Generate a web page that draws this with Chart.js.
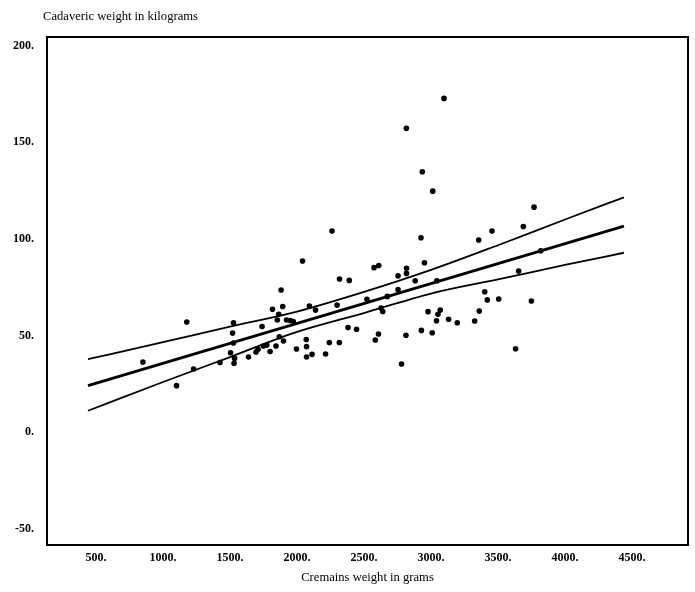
<!DOCTYPE html>
<html>
<head>
<meta charset="utf-8">
<script src="https://cdn.jsdelivr.net/npm/chart.js@4"></script>
<style>
  html, body { margin: 0; padding: 0; background: #ffffff; }
  canvas { display: block; }
</style>
</head>
<body>
<canvas id="c" width="695" height="592"></canvas>
<script>
// ---- Data ----
const cremainsGrams = [
  850, 1101, 1177, 1228, 1425, 1526, 1519, 1526, 1504, 1534,
  1530, 1638, 1694, 1709, 1739, 1749, 1774, 1799, 1817, 1843,
  1853, 1863, 1868, 1881, 1893, 1899, 1922, 1951, 1972, 1996,
  2041, 2069, 2071, 2071, 2092, 2138, 2112, 2213, 2241, 2261,
  2299, 2316, 2317, 2381, 2390, 2444, 2522, 2575, 2584, 2608,
  2610, 2627, 2640, 2674, 2754, 2754, 2780, 2813, 2817, 2817,
  2816, 2882, 2925, 2928, 2935, 2951, 2978, 3009, 3013, 3041,
  3043, 3052, 3069, 3097, 3131, 3196, 3326, 3356, 3360, 3401,
  3420, 3455, 3505, 3631, 3654, 3689, 3749, 3769, 3819
];
const cadavericKg = [
  36.2, 24.0, 56.9, 32.6, 36.0, 56.6, 51.2, 46.1, 41.0, 38.1,
  35.6, 38.8, 41.4, 42.8, 54.6, 44.5, 45.0, 41.7, 63.5, 44.5,
  58.0, 60.9, 49.3, 73.5, 65.0, 47.1, 58.0, 57.7, 57.2, 43.0,
  88.5, 47.9, 44.2, 38.8, 65.2, 63.1, 40.2, 40.4, 46.3, 104.0,
  65.7, 46.3, 79.2, 54.1, 78.5, 53.2, 68.7, 85.1, 47.6, 50.7,
  86.2, 64.2, 62.4, 70.2, 80.9, 73.8, 35.2, 50.1, 84.8, 82.1,
  157.2, 78.3, 100.6, 52.6, 134.7, 87.6, 62.3, 51.4, 124.7, 57.6,
  78.3, 60.9, 63.1, 172.7, 58.4, 56.6, 57.5, 99.4, 62.6, 72.6,
  68.4, 104.0, 68.8, 43.1, 83.3, 106.4, 67.8, 116.4, 93.8
];

const fitX = [440, 4440];
const fitY = [24.0, 106.6];

const bandX = [440, 1000, 1500, 2000, 2500, 3000, 3500, 4000, 4440];
const upperBand = [37.7, 46.5, 54.5, 62.3, 72.5, 83.9, 96.7, 110.0, 121.5];
const lowerBand = [11.0, 25.9, 38.8, 51.8, 61.6, 71.7, 79.0, 86.5, 92.8];

const xTickValues = [500, 1000, 1500, 2000, 2500, 3000, 3500, 4000, 4500];
const yTickValues = [-50, 0, 50, 100, 150, 200];

const yAxisTitle = 'Cadaveric weight in kilograms';
const xAxisTitle = 'Cremains weight in grams';

// ---- Build chart ----
const FONT = '"Liberation Serif", "DejaVu Serif", serif';
const pts = (xs, ys) => xs.map((x, i) => ({ x: x, y: ys[i] }));

const topTitle = {
  id: 'topTitle',
  afterDraw(chart) {
    const ctx = chart.ctx;
    ctx.save();
    ctx.fillStyle = '#000';
    ctx.font = '12.6px ' + FONT;
    ctx.textAlign = 'left';
    ctx.textBaseline = 'middle';
    ctx.fillText(yAxisTitle, 43, 17);
    ctx.restore();
  }
};

const X_MIN = 134, X_MAX = 4918, Y_MIN = -58.5, Y_MAX = 204.5;

new Chart(document.getElementById('c'), {
  data: {
    datasets: [
      {
        type: 'scatter',
        data: pts(cremainsGrams, cadavericKg),
        backgroundColor: '#000',
        borderColor: '#000',
        pointRadius: 2.8,
        pointBorderWidth: 0
      },
      {
        type: 'line',
        data: pts(fitX, fitY),
        borderColor: '#000',
        borderWidth: 3,
        pointRadius: 0,
        tension: 0,
        fill: false
      },
      {
        type: 'line',
        data: pts(bandX, upperBand),
        borderColor: '#000',
        borderWidth: 1.8,
        pointRadius: 0,
        cubicInterpolationMode: 'monotone',
        fill: false
      },
      {
        type: 'line',
        data: pts(bandX, lowerBand),
        borderColor: '#000',
        borderWidth: 1.8,
        pointRadius: 0,
        cubicInterpolationMode: 'monotone',
        fill: false
      }
    ]
  },
  options: {
    responsive: false,
    animation: false,
    devicePixelRatio: 1,
    layout: { padding: 0 },
    plugins: {
      legend: { display: false },
      tooltip: { enabled: false },
      title: { display: false }
    },
    scales: {
      x: {
        type: 'linear',
        position: 'bottom',
        min: X_MIN, max: X_MAX,
        afterBuildTicks: s => { s.ticks = xTickValues.map(v => ({ value: v })); },
        afterFit: s => { s.height = 47; },
        grid: { display: false, drawTicks: false },
        border: { display: true, color: '#000', width: 2 },
        ticks: {
          color: '#000',
          padding: 6,
          maxRotation: 0,
          autoSkip: false,
          font: { family: FONT, size: 12, weight: 'bold' },
          callback: v => v + '.'
        },
        title: {
          display: true,
          text: xAxisTitle,
          color: '#000',
          font: { family: FONT, size: 12.6 },
          padding: { top: 0, bottom: 7 }
        }
      },
      x2: {
        type: 'linear',
        position: 'top',
        min: X_MIN, max: X_MAX,
        afterFit: s => { s.height = 37; },
        grid: { display: false, drawTicks: false },
        border: { display: true, color: '#000', width: 2 },
        ticks: { display: false }
      },
      y: {
        type: 'linear',
        position: 'left',
        min: Y_MIN, max: Y_MAX,
        afterBuildTicks: s => { s.ticks = yTickValues.map(v => ({ value: v })); },
        afterFit: s => { s.width = 47; },
        grid: { display: false, drawTicks: false },
        border: { display: true, color: '#000', width: 2 },
        ticks: {
          color: '#000',
          padding: 13,
          autoSkip: false,
          font: { family: FONT, size: 12, weight: 'bold' },
          callback: v => v + '.'
        }
      },
      y2: {
        type: 'linear',
        position: 'right',
        min: Y_MIN, max: Y_MAX,
        afterFit: s => { s.width = 7; },
        grid: { display: false, drawTicks: false },
        border: { display: true, color: '#000', width: 2 },
        ticks: { display: false }
      }
    }
  },
  plugins: [topTitle]
});
</script>
</body>
</html>
